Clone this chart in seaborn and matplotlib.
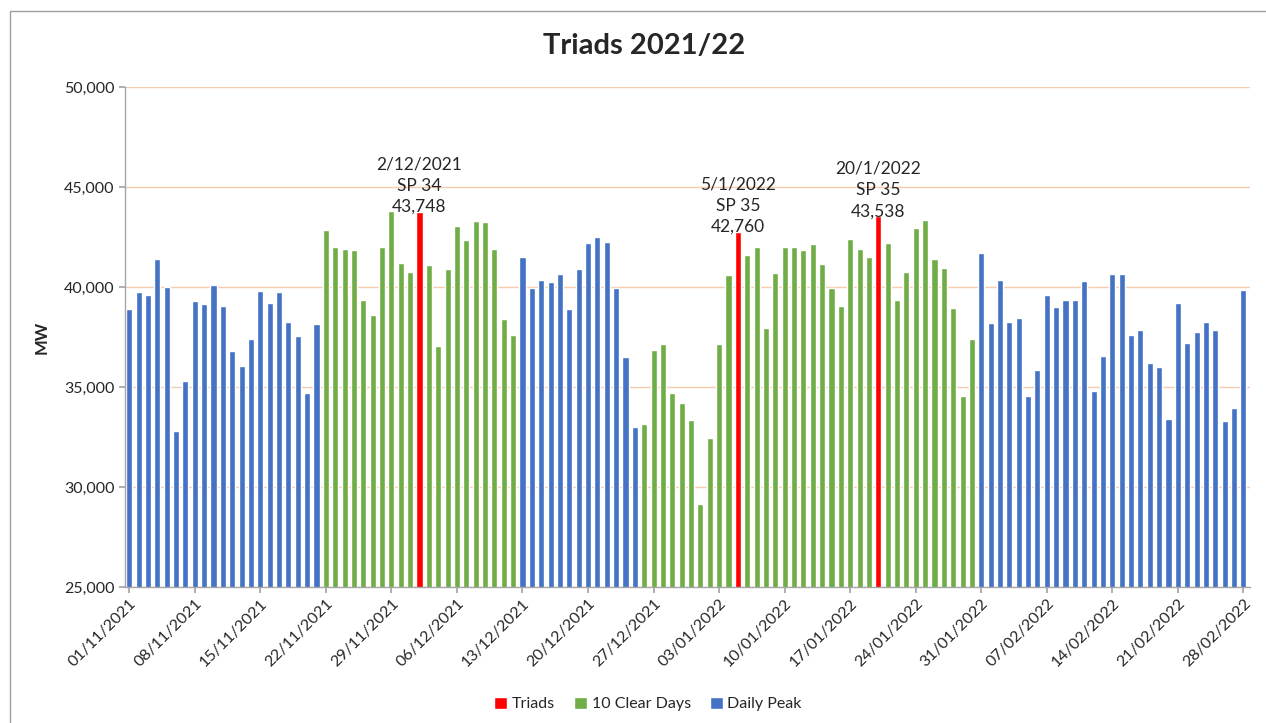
# daily peak demand (MW) through the 2021/22 triad season
import pandas as pd
import matplotlib.pyplot as plt
import seaborn as sns
from matplotlib.patches import Rectangle

# daily peak values, one list per month
nov_mw = [38900, 39750, 39600, 41400, 40000, 32800, 35300, 39300, 39150, 40100,
          39070, 36800, 36070, 37400, 39820, 39220, 39750, 38250, 37570, 34720,
          38150, 42850, 42000, 41920, 41870, 39330, 38600, 41980, 43780, 41200]
dec_mw = [40770, 43748, 41100, 37030, 40900, 43030, 42330, 43300, 43250, 41920,
          38420, 37580, 41500, 39930, 40370, 40250, 40670, 38900, 40900, 42200,
          42500, 42230, 39930, 36500, 33020, 33130, 36850, 37150, 34700, 34200,
          33370]
jan_mw = [29130, 32450, 37150, 40580, 42760, 41620, 42020, 37930, 40720, 41980,
          41980, 41870, 42150, 41150, 39930, 39070, 42380, 41920, 41520, 43538,
          42200, 39330, 40770, 42930, 43330, 41400, 40970, 38930, 34530, 37400,
          41720]
feb_mw = [38180, 40370, 38230, 38470, 34570, 35830, 39620, 39020, 39370, 39370,
          40280, 34800, 36530, 40670, 40670, 37580, 37850, 36200, 36020, 33400,
          39200, 37200, 37750, 38230, 37850, 33320, 33970, 39850]

triad_dates = ["2021-12-02", "2022-01-05", "2022-01-20"]
triad_sp = [34, 35, 35]
clear_periods = [("2021-11-22", "2021-12-12"), ("2021-12-26", "2022-01-30")]

kinds = ["Triads", "10 Clear Days", "Daily Peak"]
colors = {"Triads": "#FF0000", "10 Clear Days": "#70AD47", "Daily Peak": "#4472C4"}

# build the table
dates = pd.date_range("2021-11-01", "2022-02-28", freq="D")
df = pd.DataFrame({"date": dates, "MW": nov_mw + dec_mw + jan_mw + feb_mw})
df["kind"] = "Daily Peak"
for start, end in clear_periods:
    df.loc[(df["date"] >= start) & (df["date"] <= end), "kind"] = "10 Clear Days"
df.loc[df["date"].isin(pd.to_datetime(triad_dates)), "kind"] = "Triads"
df["label"] = df["date"].dt.strftime("%d/%m/%Y")

sns.set_theme(style="white")
plt.rcParams["font.family"] = ["Lato", "DejaVu Sans"]

fig = plt.figure(figsize=(12.66, 7.23), dpi=100)
ax = fig.add_axes([125 / 1266, 1 - 587 / 723, 1125 / 1266, 500 / 723])

sns.barplot(data=df, x="label", y="MW", hue="kind", hue_order=kinds,
            palette=colors, dodge=False, width=0.65, saturation=1,
            order=list(df["label"]), ax=ax)

# axes styling
ax.set_ylim(25000, 50000)
ax.set_xlim(-0.45, len(df) - 0.3)
ax.set_yticks(range(25000, 50001, 5000))
ax.yaxis.set_major_formatter(plt.FuncFormatter(lambda v, p: f"{v:,.0f}"))
ax.yaxis.grid(True, color="#F8CBAD", lw=1)
ax.set_axisbelow(True)
for side in ["top", "right"]:
    ax.spines[side].set_visible(False)
for side in ["left", "bottom"]:
    ax.spines[side].set_color("#A6A6A6")
    ax.spines[side].set_linewidth(1)

week_pos = list(range(0, len(df), 7))
ax.set_xticks(week_pos)
ax.set_xticklabels(df["label"].iloc[week_pos], rotation=45, ha="right",
                   rotation_mode="anchor", fontsize=11.5, color="#262626")
ax.tick_params(axis="x", length=4, color="#A6A6A6", bottom=True, pad=3)
ax.tick_params(axis="y", length=4, color="#A6A6A6", left=True,
               labelsize=11.5, labelcolor="#262626")
ax.set_xlabel("")
ax.set_ylabel("")

# triad annotations
for d, sp in zip(triad_dates, triad_sp):
    i = df.index[df["date"] == d][0]
    val = df.loc[i, "MW"]
    ts = pd.Timestamp(d)
    txt = f"{ts.day}/{ts.month}/{ts.year}\nSP {sp}\n{val:,}"
    ax.text(i, val - 150, txt, ha="center", va="bottom", fontsize=12.5,
            linespacing=1.4, color="#262626")

# legend under the chart
sns.move_legend(ax, "center", bbox_to_anchor=(648 / 1266, 1 - 704 / 723),
                bbox_transform=fig.transFigure, ncol=3, frameon=False,
                title=None, fontsize=11.5, handlelength=0.8, handleheight=0.8,
                handletextpad=0.3, columnspacing=1.2)

fig.text(644 / 1266, 1 - 46 / 723, "Triads 2021/22", ha="center", va="center",
         fontsize=21, weight="bold")
fig.text(42 / 1266, 1 - 337 / 723, "MW", rotation=90, ha="center",
         va="center", fontsize=12, weight="bold")

# chart border
fig.patches.append(Rectangle((10 / 1266, -0.05), 1.0, 1.05 - 11 / 723,
                             transform=fig.transFigure, fill=False,
                             edgecolor="#A0A0A0", lw=1))

fig.savefig("out.png", dpi=100)
